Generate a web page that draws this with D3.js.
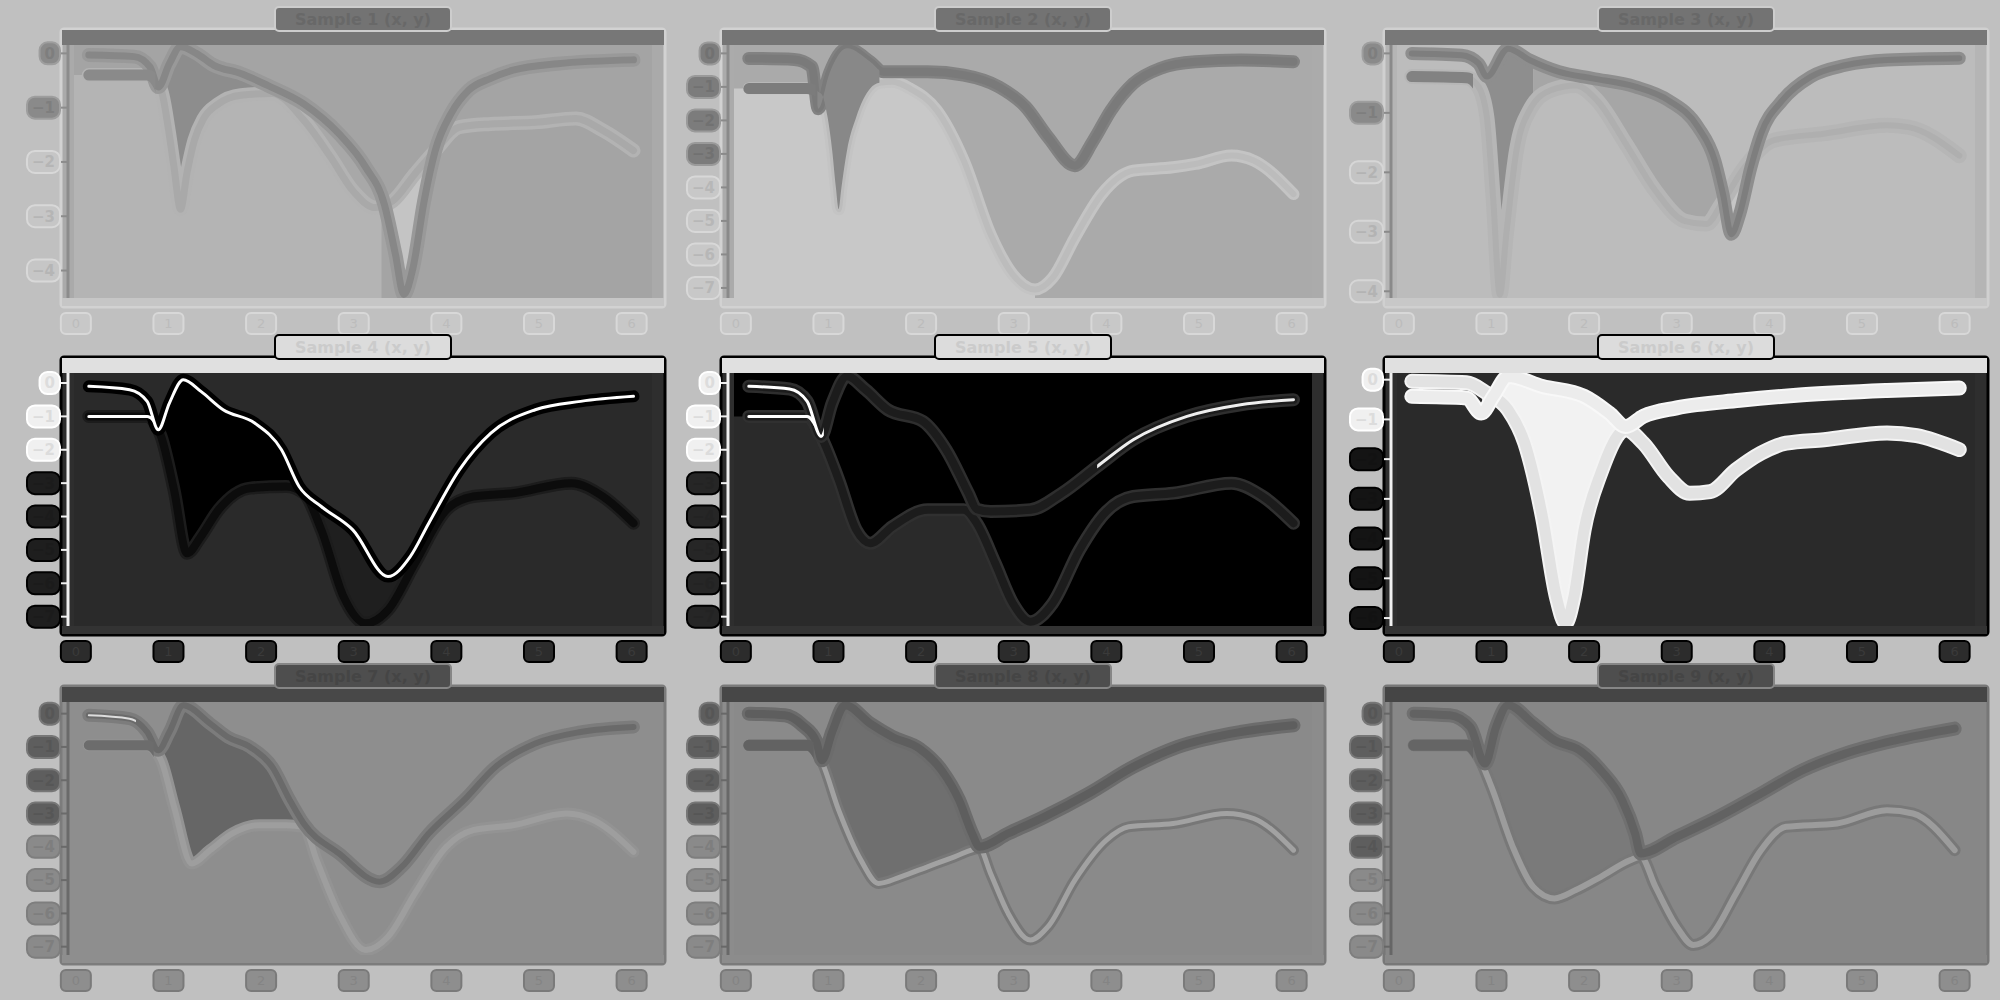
<!DOCTYPE html>
<html><head><meta charset="utf-8">
<script src="https://cdn.jsdelivr.net/npm/d3@7"></script>
<style>body{margin:0;background:#c0c0c0;} svg{display:block}</style>
</head><body>
<svg id="chart" width="2000" height="1000"></svg>
<script>
// ---------------- data ----------------
const panelTitles = ["Sample 1 (x, y)","Sample 2 (x, y)","Sample 3 (x, y)",
                     "Sample 4 (x, y)","Sample 5 (x, y)","Sample 6 (x, y)",
                     "Sample 7 (x, y)","Sample 8 (x, y)","Sample 9 (x, y)"];
const xTicks = [0,1,2,3,4,5,6];
const xTickLabels = ["0","1","2","3","4","5","6"];
const yTicks = [
  [0,-1,-2,-3,-4],[0,-1,-2,-3,-4,-5,-6,-7],[0,-1,-2,-3,-4],
  [0,-1,-2,-3,-4,-5,-6,-7],[0,-1,-2,-3,-4,-5,-6,-7],[0,-1,-2,-3,-4,-5,-6],
  [0,-1,-2,-3,-4,-5,-6,-7],[0,-1,-2,-3,-4,-5,-6,-7],[0,-1,-2,-3,-4,-5,-6,-7]];
const yTickLabels = yTicks.map(a => a.map(v => v === 0 ? "0" : "\u2212" + Math.abs(v)));
const yDomains = [[0.154,-4.506],[0.25,-7.30],[0.141,-4.113],
                  [0.30,-7.28],[0.30,-7.28],[0.168,-6.20],
                  [0.35,-7.25],[0.35,-7.25],[0.35,-7.25]];
const xDomain = [-0.02, 6.22];

const p1A = [[0.14,-0.03],[0.63,-0.06],[0.80,-0.25],[0.89,-0.62],[1.01,-0.19],[1.13,0.12],[1.30,0.0],[1.49,-0.22],[1.78,-0.37],[2.07,-0.59],[2.46,-0.93],[2.84,-1.48],[3.13,-2.10],[3.33,-2.78],[3.45,-3.70],[3.54,-4.44],[3.64,-3.95],[3.76,-2.72],[3.88,-1.79],[4.05,-1.11],[4.24,-0.68],[4.48,-0.46],[4.72,-0.31],[5.20,-0.19],[6.02,-0.12]];
const p1B = [[0.14,-0.40],[0.77,-0.40],[0.92,-0.68],[1.00,-1.40],[1.06,-2.10],[1.13,-2.87],[1.20,-2.20],[1.28,-1.60],[1.38,-1.20],[1.54,-0.93],[1.78,-0.77],[2.12,-0.74],[2.46,-1.23],[2.75,-1.91],[2.99,-2.53],[3.23,-2.84],[3.42,-2.72],[3.66,-2.22],[3.88,-1.79],[4.14,-1.36],[4.48,-1.30],[4.96,-1.27],[5.40,-1.20],[5.69,-1.42],[6.02,-1.79]];

const p2A = [[0.14,-0.15],[0.63,-0.18],[0.82,-0.40],[0.89,-1.65],[1.01,-0.60],[1.20,0.15],[1.45,-0.25],[1.59,-0.55],[2.07,-0.55],[2.46,-0.65],[2.84,-1.00],[3.13,-1.60],[3.37,-2.50],[3.66,-3.35],[3.86,-2.60],[4.05,-1.70],[4.29,-0.90],[4.58,-0.45],[4.96,-0.25],[5.45,-0.20],[6.02,-0.25]];
const p2B = [[0.14,-1.05],[0.77,-1.05],[0.92,-1.20],[0.99,-1.90],[1.04,-2.90],[1.08,-4.00],[1.11,-4.65],[1.14,-4.00],[1.20,-2.90],[1.30,-1.90],[1.45,-1.05],[1.55,-0.88],[1.69,-0.85],[1.88,-1.05],[2.17,-1.70],[2.46,-3.20],[2.75,-5.40],[2.99,-6.60],[3.23,-7.05],[3.42,-6.70],[3.66,-5.50],[3.95,-4.20],[4.29,-3.50],[4.72,-3.40],[4.96,-3.30],[5.35,-3.05],[5.59,-3.20],[6.02,-4.20]];

const p3A = [[0.14,0.0],[0.68,-0.03],[0.86,-0.17],[0.95,-0.39],[1.18,0.08],[1.41,-0.11],[1.73,-0.31],[2.09,-0.42],[2.55,-0.56],[2.91,-0.79],[3.23,-1.24],[3.41,-1.80],[3.50,-2.37],[3.59,-3.04],[3.68,-2.70],[3.80,-1.92],[3.91,-1.35],[4.14,-0.79],[4.45,-0.39],[4.82,-0.20],[5.27,-0.11],[6.05,-0.08]];
const p3B = [[0.14,-0.39],[0.73,-0.41],[0.86,-0.56],[0.95,-1.07],[1.02,-2.48],[1.09,-4.06],[1.16,-3.04],[1.27,-1.63],[1.41,-0.96],[1.64,-0.62],[1.91,-0.54],[2.14,-0.79],[2.45,-1.52],[2.77,-2.31],[3.09,-2.82],[3.32,-2.87],[3.48,-2.54],[3.73,-1.92],[4.05,-1.46],[4.59,-1.35],[5.27,-1.21],[5.50,-1.24],[6.05,-1.72]];

const p4A = [[0.14,-0.10],[0.58,-0.20],[0.77,-0.55],[0.89,-1.40],[1.01,-0.60],[1.16,0.10],[1.35,-0.25],[1.59,-0.80],[1.93,-1.20],[2.22,-2.00],[2.41,-3.10],[2.65,-3.70],[2.99,-4.40],[3.37,-5.80],[3.61,-5.20],[3.81,-4.20],[4.14,-2.60],[4.48,-1.50],[4.96,-0.80],[5.45,-0.55],[6.02,-0.40]];
const p4B = [[0.14,-1.00],[0.77,-1.00],[0.92,-1.60],[1.06,-3.20],[1.20,-5.10],[1.35,-4.60],[1.54,-3.80],[1.88,-3.15],[2.27,-3.10],[2.46,-3.30],[2.65,-4.40],[2.89,-6.40],[3.13,-7.20],[3.37,-6.80],[3.66,-5.40],[4.00,-3.80],[4.29,-3.40],[4.72,-3.30],[5.35,-3.00],[5.69,-3.40],[6.02,-4.20]];

const p5A = [[0.14,-0.10],[0.58,-0.18],[0.77,-0.55],[0.92,-1.60],[1.04,-0.60],[1.20,0.20],[1.40,-0.20],[1.64,-0.80],[2.02,-1.15],[2.27,-2.00],[2.51,-3.30],[2.60,-3.78],[2.75,-3.85],[3.18,-3.80],[3.52,-3.30],[3.90,-2.50],[4.29,-1.70],[4.87,-1.00],[5.45,-0.65],[6.02,-0.50]];
const p5B = [[0.14,-1.00],[0.77,-1.00],[0.92,-1.60],[1.11,-2.90],[1.30,-4.40],[1.45,-4.80],[1.69,-4.30],[2.07,-3.80],[2.46,-3.80],[2.60,-4.20],[2.80,-5.40],[2.99,-6.60],[3.18,-7.15],[3.42,-6.60],[3.71,-5.00],[4.00,-3.85],[4.29,-3.40],[4.72,-3.30],[5.35,-3.00],[5.69,-3.40],[6.02,-4.20]];

const p6A = [[0.14,-0.42],[0.73,-0.46],[0.89,-0.84],[1.02,-0.42],[1.18,0.08],[1.55,-0.17],[2.00,-0.42],[2.27,-0.84],[2.45,-1.18],[2.64,-0.92],[3.00,-0.71],[3.68,-0.52],[4.36,-0.38],[5.27,-0.27],[6.05,-0.21]];
const p6B = [[0.14,-0.04],[0.73,-0.08],[0.95,-0.34],[1.18,-0.76],[1.36,-1.60],[1.55,-3.45],[1.70,-5.46],[1.80,-6.13],[1.89,-5.46],[2.00,-3.78],[2.18,-2.35],[2.45,-1.26],[2.64,-1.60],[2.91,-2.44],[3.14,-2.86],[3.36,-2.82],[3.64,-2.27],[3.91,-1.85],[4.18,-1.60],[4.59,-1.51],[5.27,-1.34],[5.59,-1.41],[6.05,-1.76]];

const p7A = [[0.14,-0.05],[0.58,-0.15],[0.77,-0.55],[0.89,-1.10],[1.01,-0.55],[1.16,0.25],[1.45,-0.30],[1.64,-0.70],[1.88,-1.00],[2.12,-1.60],[2.31,-2.60],[2.46,-3.30],[2.84,-4.20],[3.28,-5.05],[3.52,-4.60],[3.81,-3.60],[4.19,-2.60],[4.53,-1.60],[4.96,-0.90],[5.45,-0.55],[6.02,-0.40]];
const p7B = [[0.14,-0.95],[0.77,-0.95],[0.92,-1.40],[1.06,-2.80],[1.25,-4.50],[1.45,-4.10],[1.69,-3.60],[1.98,-3.35],[2.27,-3.35],[2.46,-3.40],[2.60,-4.40],[2.84,-6.00],[3.13,-7.10],[3.37,-6.70],[3.66,-5.40],[4.00,-4.00],[4.29,-3.50],[4.72,-3.35],[5.30,-3.00],[5.59,-3.20],[6.02,-4.15]];

const p8A = [[0.14,0.00],[0.53,-0.05],[0.72,-0.35],[0.87,-0.85],[0.93,-1.40],[1.04,-0.55],[1.18,0.25],[1.45,-0.30],[1.69,-0.70],[1.98,-1.05],[2.22,-1.70],[2.41,-2.60],[2.55,-3.60],[2.63,-4.00],[2.94,-3.60],[3.33,-3.10],[3.81,-2.40],[4.29,-1.60],[4.77,-1.00],[5.45,-0.55],[6.02,-0.35]];
const p8B = [[0.14,-0.95],[0.77,-0.95],[0.92,-1.40],[1.11,-2.90],[1.35,-4.40],[1.54,-5.10],[1.78,-4.90],[2.07,-4.60],[2.36,-4.30],[2.63,-4.05],[2.75,-4.80],[2.94,-6.00],[3.18,-6.80],[3.37,-6.40],[3.66,-5.00],[4.00,-3.80],[4.24,-3.40],[4.72,-3.30],[5.30,-3.00],[5.59,-3.15],[6.02,-4.10]];

const p9A = [[0.16,0.00],[0.55,-0.05],[0.77,-0.40],[0.93,-1.50],[1.05,-0.40],[1.18,0.25],[1.45,-0.30],[1.68,-0.80],[1.95,-1.10],[2.18,-1.70],[2.41,-2.60],[2.55,-3.60],[2.61,-4.20],[3.00,-3.70],[3.45,-3.10],[3.91,-2.40],[4.36,-1.70],[4.82,-1.20],[5.36,-0.80],[6.00,-0.45]];
const p9B = [[0.16,-0.95],[0.73,-0.95],[0.86,-1.30],[1.00,-2.20],[1.23,-4.00],[1.45,-5.20],[1.68,-5.55],[1.91,-5.30],[2.18,-4.90],[2.50,-4.40],[2.61,-4.30],[2.77,-5.20],[3.00,-6.40],[3.18,-6.95],[3.36,-6.70],[3.64,-5.40],[3.91,-4.10],[4.18,-3.40],[4.73,-3.30],[5.27,-2.90],[5.55,-3.00],[6.00,-4.10]];

const seriesA = [p1A,p2A,p3A,p4A,p5A,p6A,p7A,p8A,p9A];
const seriesB = [p1B,p2B,p3B,p4B,p5B,p6B,p7B,p8B,p9B];
const fillRanges = [
  [[0.88,2.1],[2.1,3.33],[3.33,3.88]], [[0.88,1.55]], [[0.9,1.45],[1.45,3.5],[3.5,3.8]],
  [[0.88,2.41],[2.41,3.5]], [[0.88,2.6]], [[0.9,2.45]],
  [[0.88,2.46]], [[0.9,2.63]], [[0.86,2.61]]];
// x where the lower-left background tone ends (null = uniform background)
const bgSplit = [3.3, 3.23, null, null, 3.18, null, null, null, null];

// ---------------- styles ----------------
const rowTitle = [
  {fill:'#737373', stroke:'#cdcdcd', text:'#686868'},
  {fill:'#dcdcdc', stroke:'#000000', text:'#cbcbcb'},
  {fill:'#4e4e4e', stroke:'#868686', text:'#454545'}];
const rowXL = [
  {fill:'#c8c8c8', stroke:'#d8d8d8', text:'#bcbcbc'},
  {fill:'#2c2c2c', stroke:'#000000', text:'#3a3a3a'},
  {fill:'#8e8e8e', stroke:'#7a7a7a', text:'#848484'}];
const styles = [
 {bg:'#a4a4a4', bgLeft:'#b4b4b4', frame:'#aaaaaa', outline:'#d2d2d2', band:'#777777', bottom:'#c6c6c6', spine:'#8c8c8c',
  a:{c:'#878787',w:7,h:'#999999',hw:14}, b:{c:'#a9a9a9',w:7,h:'#b3b3b3',hw:14},
  fills:['#8d8d8d','#a8a8a8','#c4c4c4'], yl:{top:'#8a8a8a',topS:'#9e9e9e',bot:'#c6c6c6',botS:'#d8d8d8',n:2},
  hl:[{s:'b',from:-0.02,to:0.86,c:'#8a8a8a',w:11}]},
 {bg:'#aaaaaa', bgLeft:'#c8c8c8', frame:'#ababab', outline:'#d2d2d2', band:'#757575', bottom:'#c8c8c8', spine:'#8a8a8a',
  a:{c:'#7a7a7a',w:8,h:'#828282',hw:13}, b:{c:'#bcbcbc',w:6,h:'#c4c4c4',hw:12},
  fills:['#888888'], fillTop:true, yl:{top:'#7c7c7c',topS:'#9a9a9a',bot:'#c8c8c8',botS:'#d8d8d8',n:4},
  hl:[{s:'b',from:-0.02,to:0.86,c:'#7c7c7c',w:11}]},
 {bg:'#bcbcbc', bgLeft:'#bcbcbc', frame:'#b5b5b5', outline:'#d0d0d0', band:'#787878', bottom:'#c8c8c8', spine:'#8a8a8a',
  a:{c:'#7e7e7e',w:6,h:'#8e8e8e',hw:13}, b:{c:'#afafaf',w:6,h:'#b6b6b6',hw:15},
  fills:['#8e8e8e','#a6a6a6','#c6c6c6'], yl:{top:'#8a8a8a',topS:'#9e9e9e',bot:'#c4c4c4',botS:'#d6d6d6',n:2},
  hl:[{s:'b',from:-0.02,to:0.8,c:'#828282',w:11}]},
 {bg:'#2a2a2a', bgLeft:'#2a2a2a', frame:'#2e2e2e', outline:'#000000', band:'#e0e0e0', bottom:'#333333', spine:'#f0f0f0',
  a:{c:'#ffffff',w:3,h:'#000000',hw:12}, b:{c:'#0c0c0c',w:8,h:'#1c1c1c',hw:13},
  fills:['#000000','#1f1f1f'], yl:{top:'#f0f0f0',topS:'#ffffff',bot:'#1e1e1e',botS:'#000000',n:3},
  hl:[{s:'b',from:-0.02,to:0.84,c:'#ffffff',w:3}]},
 {bg:'#000000', bgLeft:'#2a2a2a', frame:'#2e2e2e', outline:'#000000', band:'#e0e0e0', bottom:'#333333', spine:'#f0f0f0',
  a:{c:'#1c1c1c',w:8,h:'#2e2e2e',hw:13}, b:{c:'#1c1c1c',w:8,h:'#303030',hw:13},
  fills:['#000000'], yl:{top:'#f0f0f0',topS:'#ffffff',bot:'#262626',botS:'#000000',n:3},
  hl:[{s:'a',from:-0.02,to:0.95,c:'#ffffff',w:3},{s:'b',from:-0.02,to:0.85,c:'#ffffff',w:3},{s:'a',from:3.9,to:6.2,c:'#eeeeee',w:3}]},
 {bg:'#2a2a2a', bgLeft:'#2a2a2a', frame:'#2e2e2e', outline:'#000000', band:'#e0e0e0', bottom:'#333333', spine:'#f0f0f0',
  a:{c:'#ececec',w:11,h:'#f8f8f8',hw:15}, b:{c:'#e2e2e2',w:11,h:'#f4f4f4',hw:15},
  fills:['#f2f2f2'], yl:{top:'#f0f0f0',topS:'#ffffff',bot:'#141414',botS:'#000000',n:2}, hl:[]},
 {bg:'#8e8e8e', bgLeft:'#8e8e8e', frame:'#8e8e8e', outline:'#7c7c7c', band:'#484848', bottom:'#8e8e8e', spine:'#6a6a6a',
  a:{c:'#6a6a6a',w:6,h:'#7c7c7c',hw:13}, b:{c:'#9e9e9e',w:6,h:'#939393',hw:12},
  fills:['#666666'], yl:{top:'#5e5e5e',topS:'#777777',bot:'#8a8a8a',botS:'#7e7e7e',n:4},
  hl:[{s:'b',from:-0.02,to:0.84,c:'#6c6c6c',w:10},{s:'a',from:-0.02,to:0.65,c:'#dddddd',w:2}]},
 {bg:'#8a8a8a', bgLeft:'#8a8a8a', frame:'#8c8c8c', outline:'#7a7a7a', band:'#474747', bottom:'#8c8c8c', spine:'#686868',
  a:{c:'#5e5e5e',w:8,h:'#6c6c6c',hw:14}, b:{c:'#a2a2a2',w:5,h:'#777777',hw:11},
  fills:['#6f6f6f'], yl:{top:'#5e5e5e',topS:'#777777',bot:'#8a8a8a',botS:'#7e7e7e',n:4},
  hl:[{s:'b',from:-0.02,to:0.84,c:'#626262',w:11}]},
 {bg:'#878787', bgLeft:'#878787', frame:'#878787', outline:'#777777', band:'#454545', bottom:'#878787', spine:'#666666',
  a:{c:'#626262',w:8,h:'#707070',hw:14}, b:{c:'#9c9c9c',w:6,h:'#787878',hw:12},
  fills:['#7a7a7a'], yl:{top:'#5e5e5e',topS:'#777777',bot:'#8a8a8a',botS:'#7e7e7e',n:5},
  hl:[{s:'b',from:-0.02,to:0.8,c:'#656565',w:11}]}
];

// ---------------- layout ----------------
const W = 578, H = 253;
const plotLefts = [74, 734, 1397];
const plotTops = [45, 373, 702];
const FONT = "DejaVu Sans";

const svg = d3.select('#chart');
const defs = svg.append('defs');
svg.append('rect').attr('width',2000).attr('height',1000).attr('fill','#c0c0c0');

let clipId = 0;
function clipRect(x0, y0, w, h) {
  const id = 'c' + (clipId++);
  defs.append('clipPath').attr('id', id).append('rect')
    .attr('x', x0).attr('y', y0).attr('width', Math.max(0, w)).attr('height', h);
  return `url(#${id})`;
}

seriesA.forEach((A, i) => {
  const B = seriesB[i];
  const col = i % 3, row = Math.floor(i / 3);
  const px = plotLefts[col], py = plotTops[row];
  const st = styles[i];
  const x = d3.scaleLinear().domain(xDomain).range([px, px + W]);
  const y = d3.scaleLinear().domain(yDomains[i]).range([py, py + H]);
  const g = svg.append('g');

  // frame
  g.append('rect').attr('x', px - 13).attr('y', py - 16).attr('width', W + 26).attr('height', H + 25)
    .attr('rx', 3).attr('fill', st.frame).attr('stroke', st.outline).attr('stroke-width', 3);
  g.append('rect').attr('x', px - 12).attr('y', py - 15).attr('width', W + 24).attr('height', 15).attr('fill', st.band);
  g.append('rect').attr('x', px - 12).attr('y', py + H).attr('width', W + 24).attr('height', 8).attr('fill', st.bottom);

  const plotClip = clipRect(px, py, W, H);
  const pg = g.append('g').attr('clip-path', plotClip);
  pg.append('rect').attr('x', px).attr('y', py).attr('width', W).attr('height', H).attr('fill', st.bg);

  const line = d3.line().x(d => x(d[0])).y(d => y(d[1])).curve(d3.curveMonotoneX);
  const area = d3.area().x(d => x(d[0])).y0(py + H).y1(d => y(d[1])).curve(d3.curveMonotoneX);

  // lower-left background tone (below B, left of its deepest point)
  if (bgSplit[i] !== null) {
    const ext = [[xDomain[0], B[0][1]]].concat(B);
    pg.append('g').attr('clip-path', clipRect(px, py, x(bgSplit[i]) - px, H))
      .append('path').attr('d', area(ext)).attr('fill', st.bgLeft);
  }

  const drawFills = () => fillRanges[i].forEach((r, k) => {
    pg.append('g').attr('clip-path', clipRect(x(r[0]), py, x(r[1]) - x(r[0]), H))
      .append('path').attr('d', area(A) + area(B)).attr('fill-rule', 'evenodd')
      .attr('fill', st.fills[k]);
  });
  if (!st.fillTop) drawFills();

  // lines
  [[B, st.b], [A, st.a]].forEach(([data, s]) => {
    pg.append('path').attr('d', line(data)).attr('fill', 'none').attr('stroke', s.h)
      .attr('stroke-width', s.hw).attr('stroke-linecap', 'round').attr('stroke-linejoin', 'round');
    pg.append('path').attr('d', line(data)).attr('fill', 'none').attr('stroke', s.c)
      .attr('stroke-width', s.w).attr('stroke-linecap', 'round').attr('stroke-linejoin', 'round');
  });
  if (st.fillTop) drawFills();
  st.hl.forEach(h => {
    const data = h.s === 'a' ? A : B;
    pg.append('g').attr('clip-path', clipRect(x(h.from), py, x(h.to) - x(h.from), H))
      .append('path').attr('d', line(data)).attr('fill', 'none').attr('stroke', h.c)
      .attr('stroke-width', h.w).attr('stroke-linecap', 'round');
  });

  // left spine
  g.append('line').attr('x1', px - 6).attr('x2', px - 6).attr('y1', py).attr('y2', py + H)
    .attr('stroke', st.spine).attr('stroke-width', 3);

  // title
  const tt = rowTitle[row];
  g.append('rect').attr('x', px + W / 2 - 88).attr('y', py - 38).attr('width', 176).attr('height', 24)
    .attr('rx', 4).attr('fill', tt.fill).attr('stroke', tt.stroke).attr('stroke-width', 2);
  g.append('text').attr('x', px + W / 2).attr('y', py - 20).attr('text-anchor', 'middle')
    .attr('font-family', FONT).attr('font-weight', 'bold').attr('font-size', 16)
    .attr('fill', tt.text).text(panelTitles[i]);

  // y tick labels
  yTicks[i].forEach((t, k) => {
    const yy = y(t);
    const top = k < st.yl.n;
    const fill = top ? st.yl.top : st.yl.bot;
    const stroke = top ? st.yl.topS : st.yl.botS;
    const txt = g.append('text').attr('x', px - 19).attr('y', yy).attr('dy', '0.36em')
      .attr('text-anchor', 'end').attr('font-family', FONT).attr('font-weight', 'bold')
      .attr('font-size', 15).attr('fill', d3.color(fill).darker(0.25)).text(yTickLabels[i][k]);
    const w = txt.node().getComputedTextLength();
    g.insert('rect', () => txt.node()).attr('x', px - 24 - w).attr('y', yy - 11)
      .attr('width', w + 10).attr('height', 22).attr('rx', 8)
      .attr('fill', fill).attr('stroke', stroke).attr('stroke-width', 2);
    g.append('line').attr('x1', px - 13).attr('x2', px - 6).attr('y1', yy).attr('y2', yy)
      .attr('stroke', st.spine).attr('stroke-width', 2);
  });

  // x tick labels
  const xl = rowXL[row];
  xTicks.forEach((t, k) => {
    const xx = x(t);
    g.append('rect').attr('x', xx - 15).attr('y', py + H + 15).attr('width', 30).attr('height', 21)
      .attr('rx', 5).attr('fill', xl.fill).attr('stroke', xl.stroke).attr('stroke-width', 2);
    g.append('text').attr('x', xx).attr('y', py + H + 30).attr('text-anchor', 'middle')
      .attr('font-family', FONT).attr('font-size', 13).attr('fill', xl.text).text(xTickLabels[k]);
  });
});
</script>
</body></html>
